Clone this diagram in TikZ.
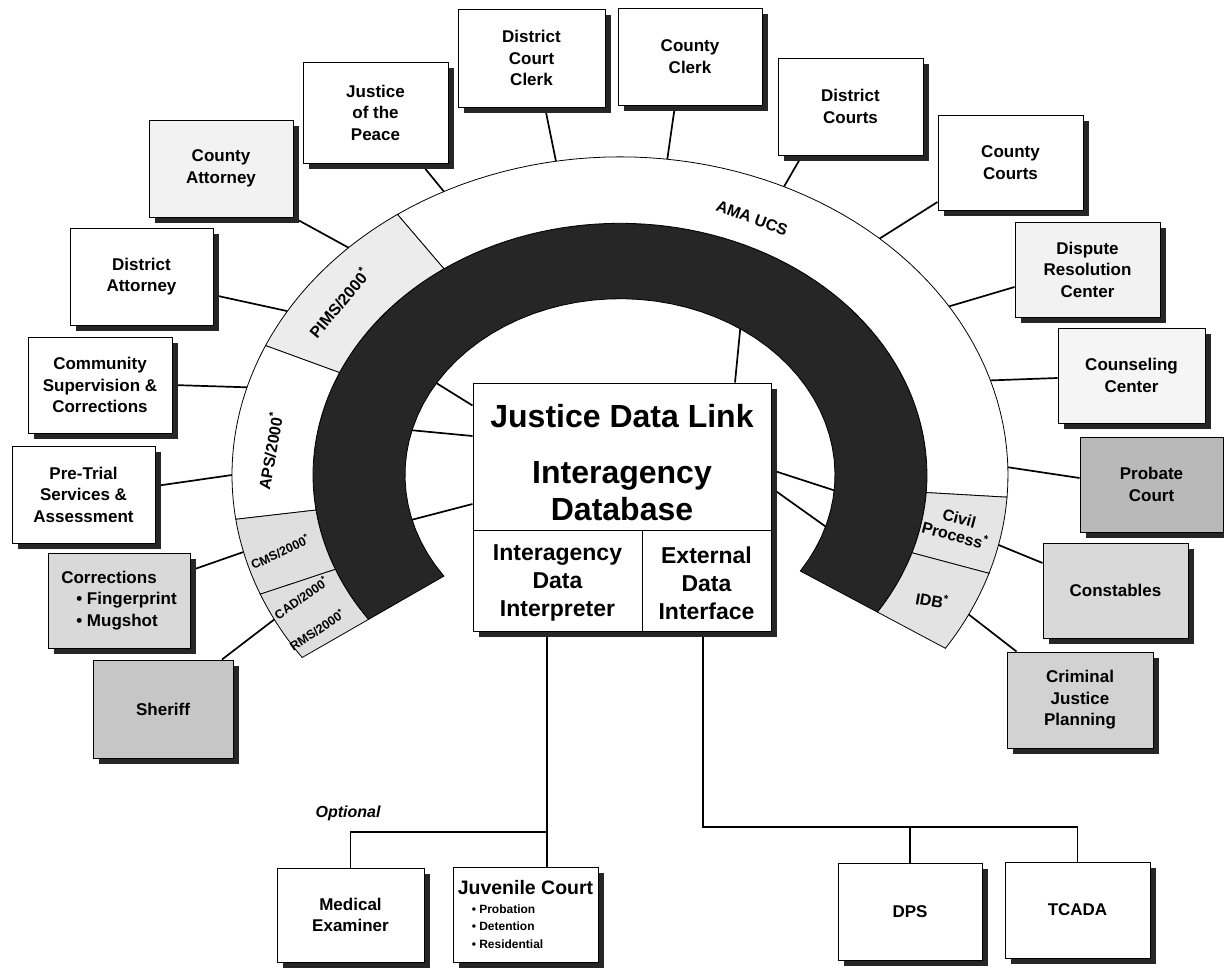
\documentclass[tikz,border=0pt]{standalone}
\usepackage{fontspec}
\setmainfont{Liberation Sans}
\usetikzlibrary{shadows,calc}
\pgfdeclarelayer{paper}
\pgfdeclarelayer{wires}
\pgfsetlayers{paper,wires,main}

% annular sector: [style]{start angle}{end angle}{inner radius}{outer radius}
\newcommand{\annsect}[5][]{%
  \filldraw[#1] plot[domain=#2:#3,samples=60] (\x:#5)
    -- plot[domain=#3:#2,samples=60] (\x:#4) -- cycle;}
\newcommand{\boxfont}{\bfseries\fontsize{17}{21.5}\selectfont}
\newcommand{\st}{\textsuperscript{*}}

\tikzset{
  box/.style={draw=black, line width=1pt, fill=white, align=center,
    inner sep=2pt, font=\boxfont,
    drop shadow={shadow xshift=6pt, shadow yshift=-6pt, fill=black!85, opacity=1}},
  sz/.style 2 args={minimum width=#1pt, minimum height=#2pt},
  cell/.style={draw=black, line width=1pt, fill=white, inner sep=0pt},
  wire/.style={line width=1.7pt, black},
  seg/.style={draw=black, line width=0.8pt},
  ringlab/.style={font=\bfseries\fontsize{16}{18}\selectfont, inner sep=0pt, align=center},
  ringsm/.style={font=\bfseries\fontsize{12.5}{15}\selectfont, inner sep=0pt}
}

\begin{document}
\begin{tikzpicture}[x=1pt, y=-1pt]
\useasboundingbox (0,0) rectangle (1224,969);
\begin{pgfonlayer}{paper}
  \fill[white] (0,0) rectangle (1224,969);
\end{pgfonlayer}

% ---------- ring of systems ----------
\begin{scope}[shift={(620,475)}, yscale=-0.82]
  % dark core ring
  \annsect[fill=black!85, draw=black, line width=0.8pt]{-33}{215}{215}{307}
  % outer band segments
  \annsect[seg, fill=white]{-4}{125}{307}{388}
  \annsect[seg, fill=gray!15]{125}{156}{307}{388}
  \annsect[seg, fill=white]{156}{188}{307}{388}
  \annsect[seg, fill=gray!25]{188}{202}{307}{388}
  \annsect[seg, fill=gray!25]{202}{215}{307}{388}
  \annsect[seg, fill=gray!20]{-18}{-4}{307}{388}
  \annsect[seg, fill=gray!22]{-33}{-18}{307}{388}
  % attachment points on the outer edge of the band
  \coordinate (o-sheriff) at (207:388);
  \coordinate (o-corr) at (194:388);
  \coordinate (o-pre) at (180:388);
  \coordinate (o-comm) at (164:388);
  \coordinate (o-da) at (149:388);
  \coordinate (o-ca) at (134.4:388);
  \coordinate (o-jp) at (117:388);
  \coordinate (o-dcc) at (99.5:388);
  \coordinate (o-cclerk) at (83:388);
  \coordinate (o-dcourts) at (65:388);
  \coordinate (o-ccourts) at (48:388);
  \coordinate (o-drc) at (32:388);
  \coordinate (o-csl) at (17.3:388);
  \coordinate (o-probate) at (1.4:388);
  \coordinate (o-const) at (-12.7:388);
  \coordinate (o-cjp) at (-26:388);
  % attachment points on the inner edge of the core ring
  \coordinate (i-top) at (56:215);
  \coordinate (i-l1) at (148.6:215);
  \coordinate (i-l2) at (165.3:215);
  \coordinate (i-l3) at (194.7:215);
  \coordinate (i-r1) at (-5:215);
  \coordinate (i-r2) at (-17:215);
\end{scope}

% ring labels
\node[ringlab, rotate=-20] (lama) at (752,218) {AMA UCS};
\node[ringlab, rotate=50] (lpims) at (339,303) {PIMS/2000\st};
\node[ringlab, rotate=80] (laps) at (270,451) {APS/2000\st};
\node[ringsm, rotate=25] (lcms) at (280,552) {CMS/2000\st};
\node[ringsm, rotate=35] (lcad) at (301,598) {CAD/2000\st};
\node[ringsm, rotate=34] (lrms) at (317,630) {RMS/2000\st};
\node[ringlab, rotate=-15] (lcivil) at (957,527) {Civil\\Process\st};
\node[ringlab, rotate=-10] (lidb) at (932,600) {IDB\st};

% ---------- central database ----------
\node[box, sz={298}{248}] (jdl) at (622,507) {};
\node[cell, sz={298}{147}] (jtop) at (622,456.5) {};
\node[cell, sz={169}{101}] (jleft) at (557.5,580.5) {};
\node[cell, sz={129}{101}] (jright) at (706.5,580.5) {};
\node[font=\bfseries\fontsize{32}{37}\selectfont] (jtitle) at (622,416) {Justice Data Link};
\node[font=\bfseries\fontsize{32}{37}\selectfont, align=center] (jsub) at (622,491) {Interagency\\Database};
\node[font=\bfseries\fontsize{23}{28}\selectfont, align=center] (jlt) at (557.5,583) {Interagency\\Data\\Interpreter};
\node[font=\bfseries\fontsize{23}{28}\selectfont, align=center] (jrt) at (706.5,583) {External\\Data\\Interface};

% ---------- agencies ----------
\node[box, sz={140}{98}, fill=gray!45] (sheriff) at (163,709) {Sheriff};
\node[box, sz={142}{95}, fill=gray!30, align=left] (corr) at (119,600.5)
  {Corrections\\\hspace*{15pt}• Fingerprint\\\hspace*{15pt}• Mugshot};
\node[box, sz={143}{97}] (pretrial) at (83.5,494.5) {Pre-Trial\\Services \&\\Assessment};
\node[box, sz={144}{96}] (comm) at (100,385) {Community\\Supervision \&\\Corrections};
\node[box, sz={143}{97}] (da) at (141.5,276.5) {District\\Attorney};
\node[box, sz={144}{97}, fill=gray!10] (ca) at (221,168.5) {County\\Attorney};
\node[box, sz={145}{101}] (jp) at (375.5,112.5) {Justice\\of the\\Peace};
\node[box, sz={147}{98}] (dcc) at (531.5,58) {District\\Court\\Clerk};
\node[box, sz={144}{97}] (cclerk) at (690,56.5) {County\\Clerk};
\node[box, sz={145}{97}] (dcourts) at (850.5,106.5) {District\\Courts};
\node[box, sz={145}{95}] (ccourts) at (1010.5,162.5) {County\\Courts};
\node[box, sz={145}{95}, fill=gray!10] (drc) at (1087.5,269.5) {Dispute\\Resolution\\Center};
\node[box, sz={147}{95}, fill=gray!8] (csl) at (1131.5,375.5) {Counseling\\Center};
\node[box, sz={143}{95}, fill=gray!55] (probate) at (1151.5,484.5) {Probate\\Court};
\node[box, sz={145}{95}, fill=gray!30] (const) at (1115.5,590.5) {Constables};
\node[box, sz={146}{96}, fill=gray!35] (cjp) at (1080,700) {Criminal\\Justice\\Planning};
\node[box, sz={147}{94}] (me) at (350.5,915) {Medical\\Examiner};
\node[box, sz={145}{95}, align=left] (jc) at (525.5,914.5)
  {{\fontsize{19.5}{22}\selectfont Juvenile Court}\\[-3pt]
   {\fontsize{12}{16.5}\selectfont\hspace*{14pt}• Probation}\\[-4pt]
   {\fontsize{12}{16.5}\selectfont\hspace*{14pt}• Detention}\\[-4pt]
   {\fontsize{12}{16.5}\selectfont\hspace*{14pt}• Residential}};
\node[box, sz={144}{97}] (dps) at (910,911.5) {DPS};
\node[box, sz={145}{96}] (tcada) at (1077.5,910) {TCADA};

\node[font=\bfseries\itshape\fontsize{16}{18}\selectfont] (opt) at (348,813) {Optional};

% ---------- connectors ----------
\coordinate (jn) at (547,832);
\coordinate (en) at (703,827);
\begin{pgfonlayer}{wires}
  \draw[wire] (o-sheriff) -- ([xshift=59pt]sheriff.north);
  \draw[wire] (o-corr) -- ([yshift=30pt]corr.east);
  \draw[wire] (o-pre) -- ([yshift=8.5pt]pretrial.east);
  \draw[wire] (o-comm) -- (comm.east);
  \draw[wire] (o-da) -- ([yshift=-18.5pt]da.east);
  \draw[wire] (o-ca) -- (ca.south east);
  \draw[wire] (o-jp) -- ([xshift=45.5pt]jp.south);
  \draw[wire] (o-dcc) -- ([xshift=13.5pt]dcc.south);
  \draw[wire] (o-cclerk) -- ([xshift=-15pt]cclerk.south);
  \draw[wire] (o-dcourts) -- ([xshift=-48.5pt]dcourts.south);
  \draw[wire] (o-ccourts) -- ([yshift=-39.5pt]ccourts.west);
  \draw[wire] (o-drc) -- ([yshift=-17.5pt]drc.west);
  \draw[wire] (o-csl) -- ([yshift=-2.5pt]csl.west);
  \draw[wire] (o-probate) -- ([yshift=6.5pt]probate.west);
  \draw[wire] (o-const) -- ([yshift=27.5pt]const.west);
  \draw[wire] (o-cjp) -- ([xshift=10pt]cjp.north west);
  % core ring to the database
  \draw[wire] (i-top) -- ([xshift=113pt]jtop.north);
  \draw[wire] (i-l1) -- ([yshift=-23pt]jtop.north west);
  \draw[wire] (i-l2) -- ([yshift=71pt]jdl.west);
  \draw[wire] (i-l3) -- ([yshift=3pt]jdl.west);
  \draw[wire] (i-r1) -- ([yshift=37pt]jdl.east);
  \draw[wire] (i-r2) -- ([yshift=19pt]jdl.east);
  % lower branches
  \draw[wire] (jn |- jleft.south) -- (jn |- jc.north);
  \draw[wire] (jn) -| (me.north);
  \draw[wire] (en |- jright.south) -- (en) -| (tcada.north);
  \draw[wire] (dps.north) -- (dps.north |- en);
\end{pgfonlayer}
\end{tikzpicture}
\end{document}
